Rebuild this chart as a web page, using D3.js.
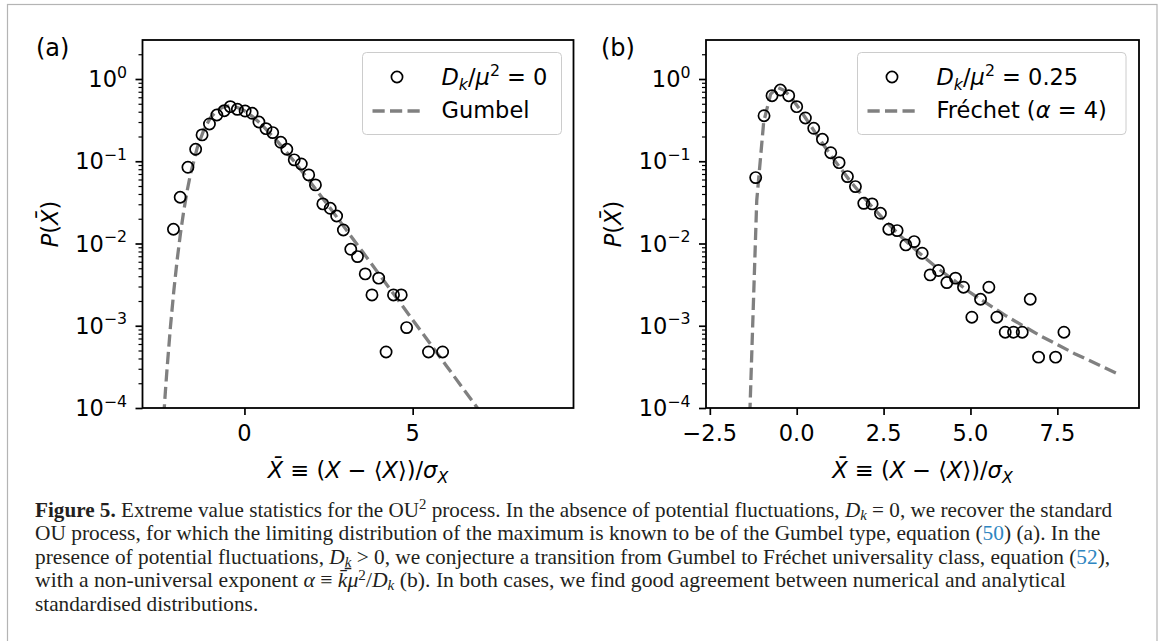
<!DOCTYPE html>
<html>
<head>
<meta charset="utf-8">
<script src="https://cdn.jsdelivr.net/npm/d3@7"></script>
<style>
  html, body { margin: 0; padding: 0; background: #fff; }
  svg { display: block; }
</style>
</head>
<body>
<svg id="fig" width="1167" height="641"></svg>
<script>
// ---- Panel (a): D_k/mu^2 = 0, standardised maxima ----
const xA = [-2.11, -1.91, -1.68, -1.45, -1.26, -1.04, -0.82, -0.60, -0.42, -0.21, 0.02, 0.23,
            0.43, 0.64, 0.84, 1.08, 1.26, 1.48, 1.69, 1.91, 2.11, 2.33, 2.55, 2.74,
            2.94, 3.16, 3.36, 3.59, 3.79, 3.99, 4.21, 4.43, 4.66, 4.82, 5.47, 5.89];
const yA = [0.0149, 0.0365, 0.0845, 0.140, 0.209, 0.284, 0.365, 0.412, 0.461, 0.428, 0.408, 0.383,
            0.300, 0.249, 0.223, 0.170, 0.140, 0.104, 0.0927, 0.0682, 0.0516, 0.0303, 0.0268, 0.0216,
            0.0146, 0.0085, 0.00693, 0.00427, 0.00237, 0.00379, 0.00048, 0.00237, 0.00237, 0.00095, 0.00048, 0.00048];

// ---- Panel (b): D_k/mu^2 = 0.25 ----
const xB = [-1.18, -0.94, -0.71, -0.47, -0.23, 0.00, 0.25, 0.49, 0.74, 0.98, 1.22, 1.46,
            1.69, 1.93, 2.17, 2.41, 2.65, 2.89, 3.14, 3.38, 3.61, 3.84, 4.08, 4.32,
            4.57, 4.80, 5.04, 5.29, 5.53, 5.76, 6.00, 6.24, 6.49, 6.72, 6.96, 7.45, 7.69];
const yB = [0.0633, 0.358, 0.627, 0.735, 0.627, 0.461, 0.336, 0.2516, 0.185, 0.127, 0.0962, 0.0651,
            0.0492, 0.0308, 0.0303, 0.0233, 0.0149, 0.01436, 0.00962, 0.01055, 0.00762, 0.00415, 0.00469, 0.00335,
            0.00379, 0.00294, 0.00127, 0.00210, 0.00294, 0.00127, 0.000835, 0.000835, 0.000835, 0.00210, 0.000415, 0.000415, 0.000835];

// ---- Analytical standardised densities ----
const gumbelX = [-2.40, -2.35, -2.30, -2.20, -2.10, -2.00, -1.90, -1.80, -1.70, -1.60, -1.40, -1.20,
                 -1.00, -0.80, -0.60, -0.45, -0.30, -0.15, 0.00, 0.25, 0.50, 1.00, 1.50, 2.00,
                 2.50, 3.00, 3.50, 4.00, 4.50, 5.00, 5.50, 6.00, 6.50, 7.00];
const gumbelY = [7.9e-5, 1.58e-4, 3.02e-4, 9.66e-4, 2.64e-3, 6.33e-3, 0.01339, 0.02553, 0.04434, 0.07085, 0.1474, 0.2451,
                 0.3428, 0.4195, 0.4627, 0.4718, 0.4637, 0.4420, 0.4108, 0.3477, 0.2822, 0.1710, 0.0969, 0.05305,
                 0.02850, 0.01517, 8.03e-3, 4.24e-3, 2.24e-3, 1.18e-3, 6.22e-4, 3.27e-4, 1.72e-4, 9.08e-5];
const frechetX = [-1.35, -1.15, -0.95, -0.75, -0.55, -0.35, -0.15, 0.05, 0.25, 0.50, 0.75, 1.00,
                  1.50, 2.00, 2.50, 3.00, 3.50, 4.00, 5.00, 6.00, 7.00, 8.00, 9.27];
const frechetY = [8.23e-5, 0.03318, 0.3005, 0.6559, 0.7879, 0.7242, 0.5879, 0.4511, 0.3382, 0.2343, 0.1632, 0.1153,
                  0.06024, 0.03353, 0.01973, 0.01218, 0.007836, 0.005219, 0.002522, 0.001336, 7.60e-4, 4.575e-4, 2.567e-4];

// ---- Ticks and labels ----
const yMajorExps = [0, -1, -2, -3, -4];
const xTicksA = [0, 5];
const xTickLabelsA = ["0", "5"];
const xTicksB = [-2.5, 0, 2.5, 5, 7.5];
const xTickLabelsB = ["\u22122.5", "0.0", "2.5", "5.0", "7.5"];
const legendA = ["0", "Gumbel"];
const legendB = ["0.25", "Fréchet"];

// ---- Layout ----
const TOP = 40, BOTTOM = 408;
const FS = 22.5;                     // plot text size
const SANS = "'DejaVu Sans', sans-serif";
const GREY = "#808080";

const svg = d3.select("#fig");
svg.append("rect").attr("width", 1167).attr("height", 641).attr("fill", "#fff");
// page frame
svg.append("rect").attr("x", 7.5).attr("y", 4.5).attr("width", 1149.5).attr("height", 700)
   .attr("fill", "none").attr("stroke", "#b4b4b4").attr("stroke-width", 1.2);

// writes mixed-style runs (italic / sub / sup) into a text element
function rich(sel, parts, fs, supK = 0.42, subK = 0.22) {
  let cur = 0;
  parts.forEach(p => {
    const shift = p.sup ? -supK * fs : p.sub ? subK * fs : 0;
    const ts = sel.append("tspan").text(p.t);
    if (shift !== cur) { ts.attr("dy", (shift - cur).toFixed(2)); cur = shift; }
    if (p.sup || p.sub) ts.attr("font-size", (0.7 * fs).toFixed(2));
    if (p.i) ts.attr("font-style", "italic");
    if (p.b) ts.attr("font-weight", "bold");
    if (p.fill) ts.attr("fill", p.fill);
    if (p.deco) ts.attr("text-decoration", p.deco);
  });
  return sel;
}

const yScale = d3.scaleLog().domain([1e-4, 2.98]).range([BOTTOM, TOP]);
const yMinor = [];
for (let e = -4; e <= 0; e++) for (let m = 2; m <= 9; m++) {
  const v = m * Math.pow(10, e);
  if (v <= 2.98) yMinor.push(v);
}

function panel(cfg) {
  const { id, left, right, xDomain, xs, ys, cx, cy, xTicks, xTickLabels, legend, legendBox, tag, tagX } = cfg;
  const x = d3.scaleLinear().domain(xDomain).range([left, right]);
  const g = svg.append("g");

  g.append("clipPath").attr("id", "clip-" + id)
    .append("rect").attr("x", left).attr("y", TOP).attr("width", right - left).attr("height", BOTTOM - TOP);

  const plot = g.append("g").attr("clip-path", `url(#clip-${id})`);
  const line = d3.line().x((d, i) => x(cx[i])).y((d, i) => yScale(cy[i]));
  plot.append("path").attr("d", line(cx))
    .attr("fill", "none").attr("stroke", GREY).attr("stroke-width", 3.3)
    .attr("stroke-dasharray", "12.2,5.3");
  plot.selectAll("circle").data(xs).join("circle")
    .attr("cx", (d, i) => x(xs[i])).attr("cy", (d, i) => yScale(ys[i])).attr("r", 5.6)
    .attr("fill", "none").attr("stroke", "#000").attr("stroke-width", 1.7);

  // axes ticks
  const gyMaj = g.append("g").attr("transform", `translate(${left},0)`)
    .call(d3.axisLeft(yScale).tickValues(yMajorExps.map(e => Math.pow(10, e))).tickSize(7).tickFormat(""));
  const gyMin = g.append("g").attr("transform", `translate(${left},0)`)
    .call(d3.axisLeft(yScale).tickValues(yMinor).tickSize(4).tickFormat(""));
  const gx = g.append("g").attr("transform", `translate(0,${BOTTOM})`)
    .call(d3.axisBottom(x).tickValues(xTicks).tickSize(7).tickFormat(""));
  [gyMaj, gyMin, gx].forEach(a => { a.select(".domain").remove(); });
  gyMaj.selectAll("line").attr("stroke", "#000").attr("stroke-width", 1.7);
  gx.selectAll("line").attr("stroke", "#000").attr("stroke-width", 1.7);
  gyMin.selectAll("line").attr("stroke", "#000").attr("stroke-width", 1.2);

  // y tick labels 10^k
  yMajorExps.forEach(e => {
    const t = g.append("text").attr("x", left - 15.5).attr("y", yScale(Math.pow(10, e)) + 8)
      .attr("text-anchor", "end").attr("font-family", SANS).attr("font-size", FS).attr("fill", "#000");
    rich(t, [{ t: "10" }, { t: e < 0 ? "\u2212" + (-e) : String(e), sup: true }], FS);
  });
  // x tick labels
  g.selectAll(".xtl").data(xTicks).join("text")
    .attr("x", d => x(d)).attr("y", 441).attr("text-anchor", "middle")
    .attr("font-family", SANS).attr("font-size", FS).attr("fill", "#000")
    .text((d, i) => xTickLabels[i]);

  // axis titles
  const xl = g.append("text").attr("x", (left + right) / 2).attr("y", 478).attr("text-anchor", "middle")
    .attr("font-family", SANS).attr("font-size", FS).attr("fill", "#000");
  rich(xl, [{ t: "X\u0304", i: true }, { t: " \u2261 (" }, { t: "X", i: true }, { t: " \u2212 \u27e8" },
            { t: "X", i: true }, { t: "\u27e9)/" }, { t: "\u03c3", i: true }, { t: "X", i: true, sub: true }], FS);
  const yl = g.append("text").attr("transform", `translate(${left - 92 + 7},224) rotate(-90)`)
    .attr("text-anchor", "middle").attr("font-family", SANS).attr("font-size", FS).attr("fill", "#000");
  rich(yl, [{ t: "P", i: true }, { t: "(" }, { t: "X\u0304", i: true }, { t: ")" }], FS);

  // frame
  g.append("rect").attr("x", left).attr("y", TOP).attr("width", right - left).attr("height", BOTTOM - TOP)
    .attr("fill", "none").attr("stroke", "#000").attr("stroke-width", 1.8);

  // legend
  const lg = g.append("g");
  lg.append("rect").attr("x", legendBox[0]).attr("y", legendBox[1]).attr("width", legendBox[2]).attr("height", legendBox[3])
    .attr("rx", 4).attr("fill", "#fff").attr("fill-opacity", 0.8).attr("stroke", "#cccccc").attr("stroke-width", 1);
  const hx = legendBox[0] + 10;
  lg.append("circle").attr("cx", hx + 24.5).attr("cy", 77).attr("r", 5.6)
    .attr("fill", "none").attr("stroke", "#000").attr("stroke-width", 1.7);
  lg.append("line").attr("x1", hx).attr("x2", hx + 48).attr("y1", 111).attr("y2", 111)
    .attr("stroke", GREY).attr("stroke-width", 3.3).attr("stroke-dasharray", "12.2,5.3");
  const tx = hx + 69;
  const t1 = lg.append("text").attr("x", tx).attr("y", 85).attr("font-family", SANS).attr("font-size", FS).attr("fill", "#000");
  rich(t1, [{ t: "D", i: true }, { t: "k", i: true, sub: true }, { t: "/" }, { t: "\u03bc", i: true },
            { t: "2", sup: true }, { t: " = " + legend[0] }], FS);
  const t2 = lg.append("text").attr("x", tx).attr("y", 117.5).attr("font-family", SANS).attr("font-size", FS).attr("fill", "#000");
  if (legend[1] === "Gumbel") rich(t2, [{ t: "Gumbel" }], FS);
  else rich(t2, [{ t: legend[1] + " (" }, { t: "\u03b1", i: true }, { t: " = 4)" }], FS);

  // panel tag
  g.append("text").attr("x", tagX).attr("y", 55.5).attr("font-family", SANS).attr("font-size", 24)
    .attr("fill", "#000").text(tag);
}

panel({ id: "a", left: 142.5, right: 573.5, xDomain: [-3.03, 9.78], xs: xA, ys: yA,
        cx: gumbelX, cy: gumbelY, xTicks: xTicksA, xTickLabels: xTickLabelsA,
        legend: legendA, legendBox: [362.5, 52.5, 199, 82], tag: "(a)", tagX: 36 });
panel({ id: "b", left: 706, right: 1139, xDomain: [-2.61, 9.85], xs: xB, ys: yB,
        cx: frechetX, cy: frechetY, xTicks: xTicksB, xTickLabels: xTickLabelsB,
        legend: legendB, legendBox: [857.5, 52.5, 268.5, 82], tag: "(b)", tagX: 601 });

// ---- Caption ----
const LINK = "#2e86c1";
const CAP_FS = 21.5;
const captionLines = [
  [{ t: "Figure 5.", b: true }, { t: " Extreme value statistics for the OU" }, { t: "2", sup: true },
   { t: " process. In the absence of potential fluctuations, " }, { t: "D", i: true }, { t: "k", i: true, sub: true },
   { t: " = 0, we recover the standard" }],
  [{ t: "OU process, for which the limiting distribution of the maximum is known to be of the Gumbel type, equation (" },
   { t: "50", fill: LINK }, { t: ") (a). In the" }],
  [{ t: "presence of potential fluctuations, " }, { t: "D", i: true }, { t: "k", i: true, sub: true, deco: "underline" },
   { t: " > 0, we conjecture a transition from Gumbel to Fréchet universality class, equation (" },
   { t: "52", fill: LINK }, { t: ")," }],
  [{ t: "with a non-universal exponent " }, { t: "\u03b1", i: true }, { t: " \u2261 " }, { t: "k\u0304\u03bc", i: true },
   { t: "2", sup: true }, { t: "/" }, { t: "D", i: true }, { t: "k", i: true, sub: true },
   { t: " (b). In both cases, we find good agreement between numerical and analytical" }],
  [{ t: "standardised distributions." }]
];
const captionBaselines = [516.5, 540, 563.5, 587, 610.5];
const captionWidths = [1077.8, 1065.9, 1075.7, 1031.5, 223.3];
captionLines.forEach((parts, k) => {
  const g = svg.append("g").attr("transform", `translate(35,${captionBaselines[k]})`);
  const t = g.append("text").attr("x", 0).attr("y", 0)
    .attr("font-family", "'Liberation Serif', 'Times New Roman', serif").attr("font-size", CAP_FS).attr("fill", "#231f20");
  rich(t, parts, CAP_FS, 0.34, 0.15);
  const w = t.node().getBBox().width;
  g.attr("transform", `translate(35,${captionBaselines[k]}) scale(${captionWidths[k] / w},1)`);
});
</script>
</body>
</html>
